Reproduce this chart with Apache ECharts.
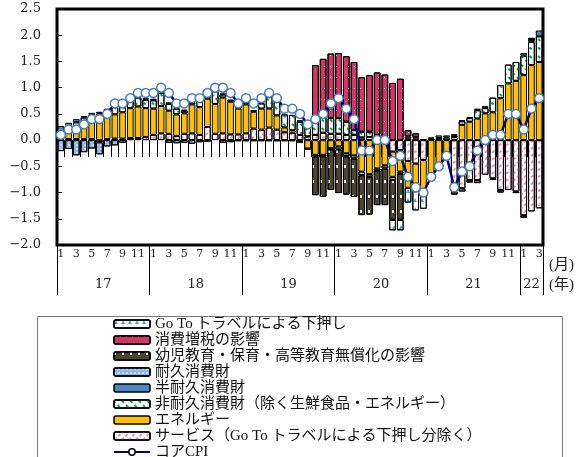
<!DOCTYPE html>
<html>
<head>
<meta charset="utf-8">
<script src="https://cdn.jsdelivr.net/npm/echarts@6/dist/echarts.min.js"></script>
<style>
  html, body { margin: 0; padding: 0; background: #ffffff; }
  #chart { width: 580px; height: 457px; }
</style>
</head>
<body>
<div id="chart"></div>
<script>
// Contributions to the year-on-year change of core CPI (percentage points), Jan 2017 - Mar 2022
const years = ['17', '18', '19', '20', '21', '22'];
const monthsInYear = [12, 12, 12, 12, 12, 3];

const services = [
  0.02, 0.02, 0.02, 0.02, 0.02, -0.04, 0.02, 0.03, 0.03, 0.04, 0.04, 0.06,
  0.10, 0.13, 0.12, 0.08, 0.12, 0.13, 0.10, 0.25, 0.12, 0.13, 0.11, 0.11,
  0.13, 0.22, 0.20, 0.24, 0.20, 0.15, 0.14, 0.10, 0.07, 0.10, 0.14, 0.12,
  0.12, 0.10, 0.10, 0.05, 0.06, 0.10, 0.06, -0.22, -0.19, -0.40, -0.45, -0.38,
  0, 0, 0, -0.98, -0.92, -0.76, -0.76, -0.66, -0.73, -0.95, -0.95, -0.98,
  -1.43, -1.36, -1.30
];
const energy = [
  0.05, 0.12, 0.17, 0.30, 0.38, 0.40, 0.42, 0.46, 0.50, 0.57, 0.60, 0.55,
  0.50, 0.52, 0.44, 0.41, 0.39, 0.55, 0.53, 0.54, 0.57, 0.68, 0.62, 0.49,
  0.55, 0.32, 0.40, 0.36, 0.27, 0.09, 0.05, -0.03, -0.16, -0.28, -0.28, -0.15,
  -0.12, -0.25, -0.29, -0.60, -0.65, -0.54, -0.48, -0.48, -0.41, -0.51, -0.51, -0.60,
  -0.63, -0.48, -0.32, 0.06, 0.29, 0.35, 0.41, 0.51, 0.53, 0.80, 1.08, 1.13,
  1.24, 1.43, 1.49
];
const nonDurable = [
  0.07, 0.13, 0.15, 0.11, 0.09, 0.11, 0.12, 0.14, 0.16, 0.20, 0.17, 0.16,
  0.16, 0.25, 0.13, 0.11, 0.05, 0.03, 0.12, 0.03, 0.25, 0.06, 0.04, 0.05,
  0.03, 0.03, 0.10, 0.22, 0.26, 0.25, 0.29, 0.25, 0.22, 0.25, 0.30, 0.30,
  0.30, 0.25, 0.09, 0.11, 0.10, 0, 0, 0, 0, 0.03, 0.03, 0.02,
  0.03, 0.04, 0.05, 0.03, 0.07, 0.07, 0.16, 0.10, 0.28, 0.25, 0.36, 0.36,
  0.37, 0.44, 0.49
];
const semiDurable = [
  0.13, 0.06, 0.06, 0.03, 0.03, 0.03, 0.04, 0.03, 0.03, 0.03, 0.03, 0.03,
  0.03, 0.05, 0.03, 0.02, 0.02, 0.02, 0.02, 0, 0.05, 0.02, 0, 0,
  0.02, 0, 0.02, 0, 0, 0, 0, 0.03, 0.03, 0, 0, 0,
  0, 0, 0, 0, 0, 0, 0, 0, 0, 0.04, 0.03, 0,
  0.02, 0.05, 0.04, 0.02, 0.02, 0.02, 0.03, 0.04, 0, 0, 0, 0,
  0.05, 0.02, 0.11
];
const durable = [
  -0.21, -0.17, -0.29, -0.23, -0.16, -0.23, -0.12, -0.10, -0.05, 0, 0, 0,
  0, 0, -0.05, -0.06, -0.05, -0.07, -0.04, -0.03, 0, -0.05, -0.04, -0.02,
  -0.02, -0.02, -0.02, -0.02, -0.02, -0.02, -0.02, -0.02, -0.02, -0.03, -0.03, -0.03,
  -0.06, -0.06, -0.06, -0.07, -0.05, -0.04, -0.06, -0.06, -0.04, 0, 0, 0,
  0, 0, 0, 0, -0.06, 0, 0, 0, 0, 0, 0, -0.03,
  0, 0.02, 0
];
const education = [
  0, 0, 0, 0, 0, 0, 0, 0, 0, 0, 0, 0,
  0, 0, 0, 0, 0, 0, 0, 0, 0, 0, 0, 0,
  0, 0, 0, 0, 0, 0, 0, 0, 0, -0.74, -0.77, -0.77,
  -0.83, -0.73, -0.73, -0.76, -0.72, -0.66, -0.70, -0.76, -0.88, 0, 0, 0,
  0, 0, 0, 0, 0, 0, 0, 0, -0.03, 0, 0, 0,
  -0.05, 0, 0
];
const taxHike = [
  0, 0, 0, 0, 0, 0, 0, 0, 0, 0, 0, 0,
  0, 0, 0, 0, 0, 0, 0, 0, 0, 0, 0, 0,
  0, 0, 0, 0, 0, 0, 0, 0, 0, 1.08, 1.11, 1.23,
  1.24, 1.25, 1.30, 1.04, 1.08, 1.19, 1.19, 1.09, 1.17, 0.12, 0.07, 0,
  0, 0, 0, -0.06, 0, -0.05, -0.06, 0, 0, -0.05, 0, 0,
  0, 0.04, 0
];
const goTo = [
  0, 0, 0, 0, 0, 0, 0, 0, 0, 0, 0, 0,
  0, 0, 0, 0, 0, 0, 0, 0, 0, 0, 0, 0,
  0, 0, 0, 0, 0, 0, 0, 0, 0, 0, 0, 0,
  0, 0, 0, 0, 0, 0, 0, -0.20, -0.20, -0.28, -0.38, -0.33,
  0, 0, 0, 0, 0, 0, 0, 0, 0, 0, 0, 0,
  0, 0, 0
];
const coreCPI = [
  0.1, 0.2, 0.2, 0.3, 0.4, 0.4, 0.5, 0.7, 0.7, 0.8, 0.9, 0.9,
  0.9, 1.0, 0.9, 0.7, 0.7, 0.8, 0.8, 0.9, 1.0, 1.0, 0.9, 0.7,
  0.8, 0.7, 0.8, 0.9, 0.8, 0.6, 0.6, 0.5, 0.3, 0.4, 0.5, 0.7,
  0.8, 0.6, 0.4, -0.2, -0.2, 0.0, 0.0, -0.4, -0.3, -0.7, -0.9, -1.0,
  -0.7, -0.5, -0.3, -0.9, -0.6, -0.5, -0.2, 0.0, 0.1, 0.1, 0.5, 0.5,
  0.2, 0.6, 0.8
];

const seriesNames = {
  goTo: 'Go To トラベルによる下押し',
  tax: '消費増税の影響',
  edu: '幼児教育・保育・高等教育無償化の影響',
  durable: '耐久消費財',
  semi: '半耐久消費財',
  nonDur: '非耐久消費財（除く生鮮食品・エネルギー）',
  energy: 'エネルギー',
  services: 'サービス（Go To トラベルによる下押し分除く）',
  core: 'コアCPI'
};

// month categories and year spans
const categories = [];
const yearBounds = [0];
years.forEach((y, k) => {
  for (let m = 1; m <= monthsInYear[k]; m++) categories.push('20' + y + '/' + m);
  yearBounds.push(yearBounds[yearBounds.length - 1] + monthsInYear[k]);
});
const yearMids = years.map((y, k) => (yearBounds[k] + yearBounds[k + 1]) / 2);

const FONT = "'Liberation Serif', 'Noto Sans CJK JP', serif";
const NUMFONT = "'DejaVu Serif', serif";

const toBars = arr => arr.map(v => (v === 0 ? null : v));

function barSeries(name, values, itemStyle) {
  return {
    name: name,
    type: 'bar',
    stack: 'contrib',
    barCategoryGap: '13%',
    data: toBars(values),
    itemStyle: Object.assign({ borderColor: '#000', borderWidth: 1 }, itemStyle),
    emphasis: { disabled: true }
  };
}

const series = [
  barSeries(seriesNames.services, services, {
    color: '#ffffff',
    decal: { symbol: 'rect', symbolSize: 1, color: '#f08cc2', dashArrayX: [3, 2], dashArrayY: [2, 3], rotation: -Math.PI / 4 }
  }),
  barSeries(seriesNames.energy, energy, { color: '#ffc000' }),
  barSeries(seriesNames.nonDur, nonDurable, {
    color: '#ffffff',
    decal: { symbol: 'rect', symbolSize: 1, color: '#00a550', dashArrayX: [3, 3], dashArrayY: [2, 4], rotation: Math.PI / 4 }
  }),
  barSeries(seriesNames.semi, semiDurable, { color: '#4f86c6' }),
  barSeries(seriesNames.durable, durable, {
    color: '#8dbbea',
    decal: { symbol: 'circle', symbolSize: 0.8, color: '#ffffff', dashArrayX: [2, 2], dashArrayY: [2, 2] }
  }),
  barSeries(seriesNames.edu, education, {
    color: '#4b4530',
    decal: { symbol: 'rect', symbolSize: 1, color: '#ffffff', dashArrayX: [2, 6], dashArrayY: [3, 12] }
  }),
  barSeries(seriesNames.tax, taxHike, {
    color: '#d93468',
    decal: { symbol: 'rect', symbolSize: 1, color: '#ffffff', dashArrayX: [1, 5], dashArrayY: [1, 10] }
  }),
  barSeries(seriesNames.goTo, goTo, {
    color: '#ffffff',
    decal: { symbol: 'triangle', symbolSize: 1, color: '#3fa9c9', dashArrayX: [4, 3], dashArrayY: [4, 5] }
  }),
  {
    name: seriesNames.core,
    type: 'line',
    data: coreCPI,
    z: 5,
    symbol: 'circle',
    symbolSize: 9,
    lineStyle: { color: '#000080', width: 2.5 },
    itemStyle: { color: '#ffffff', borderColor: '#4a7ebb', borderWidth: 1.5 },
    emphasis: { disabled: true }
  }
];

const chart = echarts.init(document.getElementById('chart'), null, { renderer: 'canvas' });

chart.setOption({
  animation: false,
  backgroundColor: '#ffffff',
  grid: {
    left: 57, right: 37, top: 9, bottom: 212,
    show: true, borderColor: '#000', borderWidth: 3, backgroundColor: 'transparent'
  },
  xAxis: [
    {
      type: 'category',
      data: categories,
      boundaryGap: true,
      position: 'bottom',
      axisLine: { show: false },
      axisTick: { show: true, interval: 0, length: 17, lineStyle: { color: '#000', width: 1 } },
      axisLabel: {
        interval: 0,
        margin: 4,
        fontFamily: NUMFONT,
        fontSize: 11,
        color: '#222',
        formatter: v => { const m = +v.split('/')[1]; return m % 2 ? String(m) : ''; }
      },
      splitLine: { show: false }
    },
    {
      type: 'value',
      min: 0,
      max: categories.length,
      position: 'bottom',
      axisLine: { show: false },
      splitLine: { show: false },
      axisTick: { show: true, customValues: yearBounds, length: 50, lineStyle: { color: '#000', width: 1 } },
      axisLabel: {
        customValues: yearMids,
        margin: 33,
        fontFamily: NUMFONT,
        fontSize: 13,
        color: '#222',
        formatter: v => { const k = yearMids.indexOf(v); return k >= 0 ? years[k] : ''; }
      }
    }
  ],
  yAxis: {
    type: 'value',
    min: -2.0,
    max: 2.5,
    interval: 0.5,
    axisLine: { show: false },
    splitLine: { show: false },
    axisTick: { show: true, inside: true, length: 5, lineStyle: { color: '#000', width: 1 } },
    axisLabel: {
      margin: 16,
      fontFamily: NUMFONT,
      fontSize: 13,
      color: '#222',
      formatter: v => (v < 0 ? '\u2212' : '') + Math.abs(v).toFixed(1)
    }
  },
  legend: {
    type: 'plain',
    orient: 'vertical',
    left: 113,
    top: 316,
    width: 440,
    height: 200,
    padding: 0,
    itemGap: 0,
    itemWidth: 36,
    itemHeight: 8,
    selectedMode: false,
    itemStyle: { borderWidth: 1.5, borderColor: '#000' },
    textStyle: { fontFamily: FONT, fontSize: 15, color: '#111', lineHeight: 16 },
    data: [
      seriesNames.goTo, seriesNames.tax, seriesNames.edu, seriesNames.durable,
      seriesNames.semi, seriesNames.nonDur, seriesNames.energy, seriesNames.services,
      seriesNames.core
    ]
  },
  graphic: [
    {
      type: 'rect',
      silent: true,
      z: -1,
      shape: { x: 37.5, y: 316.5, width: 525, height: 170 },
      style: { fill: 'none', stroke: '#777', lineWidth: 1 }
    },
    {
      type: 'text', silent: true, left: 549, top: 258,
      style: { text: '(月)', fontFamily: FONT, fontSize: 15, fill: '#222' }
    },
    {
      type: 'text', silent: true, left: 549, top: 278,
      style: { text: '(年)', fontFamily: FONT, fontSize: 15, fill: '#222' }
    }
  ],
  series: series
});
</script>
</body>
</html>
